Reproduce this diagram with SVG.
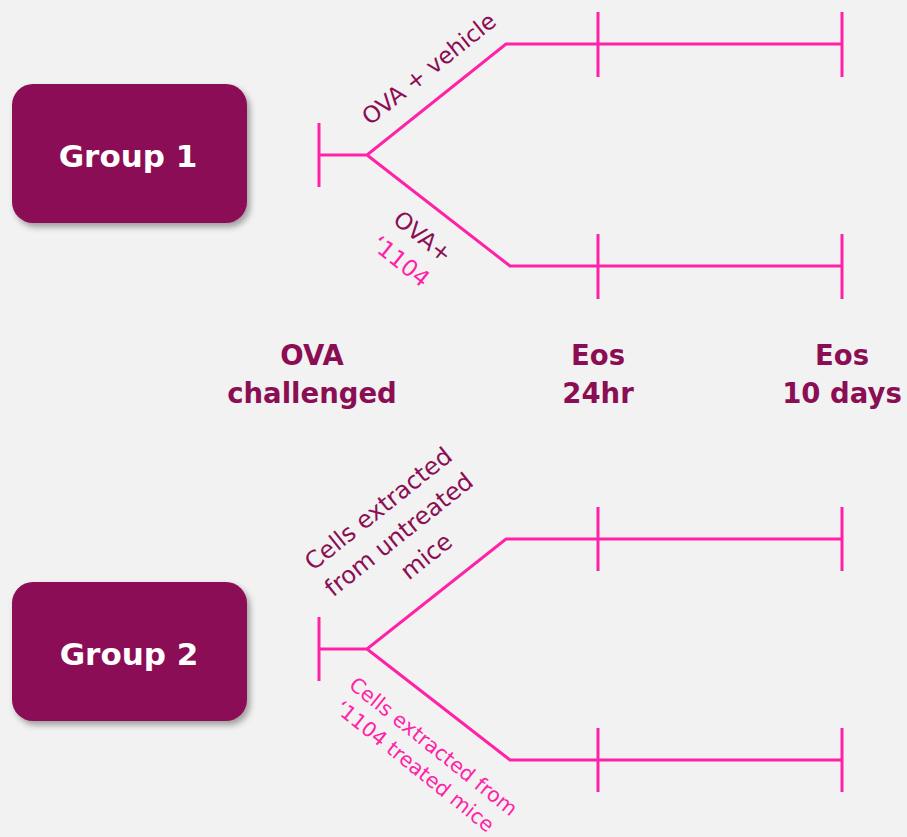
<svg xmlns="http://www.w3.org/2000/svg" width="907" height="837" viewBox="0 0 907 837">
  <defs>
    <filter id="shadow" x="-10%" y="-10%" width="125%" height="130%">
      <feDropShadow dx="3" dy="4" stdDeviation="3" flood-color="#000" flood-opacity="0.35"/>
    </filter>
    <style>
      .box { fill: #8b0e54; filter: url(#shadow); }
      .box-label { font-family: "DejaVu Sans", sans-serif; font-weight: bold; font-size: 31px; fill: #ffffff; text-anchor: middle; }
      .axis { font-family: "DejaVu Sans", sans-serif; font-weight: bold; font-size: 27.5px; fill: #8b0e54; text-anchor: middle; }
      .line { stroke: #ff22a8; stroke-width: 3; fill: none; stroke-linejoin: miter; }
      .lab { font-family: "DejaVu Sans", sans-serif; font-size: 23px; text-anchor: middle; }
      .small { font-size: 20.5px; }
      .dark { fill: #8b0e54; }
      .pink { fill: #ff22a8; }
    </style>
  </defs>
  <rect width="907" height="837" fill="#f2f2f2"/>

  <!-- Group nodes -->
  <g id="group1">
    <rect class="box" x="12" y="84" width="235" height="139" rx="21"/>
    <text class="box-label" x="128" y="167">Group 1</text>
  </g>
  <g id="group2">
    <rect class="box" x="12" y="582" width="235" height="139" rx="21"/>
    <text class="box-label" x="129" y="665">Group 2</text>
  </g>

  <!-- Timeline labels -->
  <g id="t-ova">
    <text class="axis" x="312" y="365">OVA</text>
    <text class="axis" x="312" y="403">challenged</text>
  </g>
  <g id="t-24hr">
    <text class="axis" x="598" y="365">Eos</text>
    <text class="axis" x="598" y="403">24hr</text>
  </g>
  <g id="t-10d">
    <text class="axis" x="842" y="365">Eos</text>
    <text class="axis" x="842" y="403">10 days</text>
  </g>

  <!-- Branch labels -->
  <g id="lab-vehicle">
    <text class="lab dark" transform="translate(434,75) rotate(-38.6)">OVA + vehicle</text>
  </g>
  <g id="lab-1104" transform="translate(418,243) rotate(38.6)">
    <text class="lab dark" x="0" y="0">OVA+</text>
    <text class="lab pink" x="-2" y="33">‘1104</text>
  </g>
  <g id="lab-untreated" transform="translate(404,541) rotate(-38.6)">
    <text class="lab dark" x="0" y="-33" style="font-size:24px">Cells extracted</text>
    <text class="lab dark" x="0" y="0" style="font-size:24px">from untreated</text>
    <text class="lab dark" x="8" y="34" style="font-size:24px">mice</text>
  </g>
  <g id="lab-treated" transform="translate(429,752) rotate(38.6)">
    <text class="lab pink small" x="0" y="0">Cells extracted from</text>
    <text class="lab pink small" x="-2" y="27">‘1104 treated mice</text>
  </g>

  <!-- Connectors -->
  <g id="connectors" class="line">
    <!-- group 1 -->
    <path d="M319 123 V187 M319 155 H367 L506 44 H842 M367 155 L510 266 H842"/>
    <path d="M598 12 V77 M842 12 V77 M598 234 V299 M842 234 V299"/>
    <!-- group 2 -->
    <path d="M319 617 V681 M319 649 H367 L506 539 H842 M367 649 L510 760 H842"/>
    <path d="M598 507 V571 M842 507 V571 M598 728 V792 M842 728 V792"/>
  </g>
</svg>
